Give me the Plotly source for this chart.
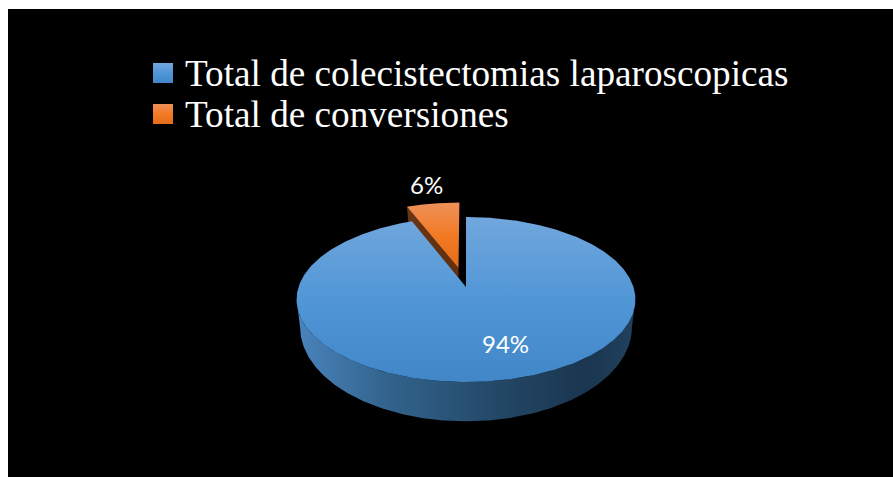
import numpy as np
import plotly.graph_objects as go

# Chart data
categories = ["Total de colecistectomias laparoscopicas", "Total de conversiones"]
percentages = [94, 6]
label_positions = [(505, 343.5), (426.5, 184)]

# Projection of the disc onto the page: a perspective with two rings (top and base)
CX = 466
TILT = 0.1515
TOP_RING = dict(cy=287.0, rx=167.5, ry=80.6)
BASE_RING = dict(cy=313.0, rx=164.0, ry=91.9)
EXPLODE = 0.249


def project(u, v, ring):
    w = 1 + TILT * v
    return CX + ring["rx"] * u / w, ring["cy"] - ring["ry"] * v / w


def arc(start, stop, offset=(0.0, 0.0), n=240):
    """Unit-disc points between two clockwise angles measured from 12 o'clock."""
    t = np.linspace(start, stop, n)
    return np.sin(t) + offset[0], np.cos(t) + offset[1]


def gradient(kind, stops):
    return dict(type=kind, colorscale=stops)


def polygon(xs, ys, fill):
    return go.Scatter(x=np.asarray(xs), y=np.asarray(ys), mode="lines", fill="toself",
                      fillgradient=fill, line=dict(width=0), hoverinfo="skip",
                      showlegend=False)


# Vertical stops run bottom to top of each shape
BLUE_TOP = [[0, "#4186c7"], [0.5, "#5196d6"], [1, "#71a7dd"]]
ORANGE_TOP = [[0, "#e56d1b"], [0.5, "#f27a24"], [1, "#ee9059"]]
BLUE_SIDE = [[0, "#4a84bd"], [0.25, "#33658f"], [0.6, "#234766"],
             [0.85, "#1a3650"], [1, "#21415f"]]
ORANGE_SIDE = [[0, "#5c2e10"], [1, "#6a3614"]]

total = sum(percentages)
blue_sweep = 2 * np.pi * percentages[0] / total
mid = blue_sweep + np.pi * percentages[1] / total
shift = (EXPLODE * np.sin(mid), EXPLODE * np.cos(mid))

fig = go.Figure()

# Exploded slice: its inner side wall first, then its top face
ou, ov = arc(blue_sweep, 2 * np.pi, shift)
apex = shift
edge = (ou[0], ov[0])
sx_top, sy_top = project(np.array([apex[0], edge[0]]), np.array([apex[1], edge[1]]), TOP_RING)
sx_base, sy_base = project(np.array([edge[0], apex[0]]), np.array([edge[1], apex[1]]), BASE_RING)
fig.add_trace(polygon(np.r_[sx_top, sx_base], np.r_[sy_top, sy_base],
                      gradient("vertical", ORANGE_SIDE)))
fx, fy = project(np.r_[apex[0], ou], np.r_[apex[1], ov], TOP_RING)
fig.add_trace(polygon(fx, fy, gradient("vertical", ORANGE_TOP)))

# Main slice: outer wall across the front half, then the top face
front = np.linspace(np.pi / 2 + np.arcsin(TILT), 3 * np.pi / 2 - np.arcsin(TILT), 300)
wx_top, wy_top = project(np.sin(front), np.cos(front), TOP_RING)
wx_base, wy_base = project(np.sin(front), np.cos(front), BASE_RING)
fig.add_trace(polygon(np.r_[wx_top, wx_base[::-1]], np.r_[wy_top, wy_base[::-1]],
                      gradient("horizontal", BLUE_SIDE)))
bu, bv = arc(0, blue_sweep, n=600)
bx, by = project(np.r_[0, bu], np.r_[0, bv], TOP_RING)
fig.add_trace(polygon(bx, by, gradient("vertical", BLUE_TOP)))

# Legend swatches with the same gradients as the slices
for (sy, stops) in zip((63, 104), (BLUE_TOP, ORANGE_TOP)):
    fig.add_trace(polygon([153, 173, 173, 153], [sy, sy, sy + 20, sy + 20],
                          gradient("vertical", stops)))

annotations = []
for name, y in zip(categories, (73, 114)):
    annotations.append(dict(x=183, y=y, text=name, xref="x", yref="y", showarrow=False,
                            xanchor="left", yanchor="middle",
                            font=dict(family="Liberation Serif", size=37.2, color="#ffffff")))
for value, (lx, ly) in zip(percentages, label_positions):
    annotations.append(dict(x=lx, y=ly, text=f"{value}%", xref="x", yref="y", showarrow=False,
                            xanchor="center", yanchor="middle",
                            font=dict(family="Lato", size=24, color="#ffffff")))

fig.update_layout(
    width=893, height=477, autosize=False,
    margin=dict(l=0, r=0, t=0, b=0),
    paper_bgcolor="#ffffff", plot_bgcolor="#000000",
    showlegend=False, annotations=annotations,
    xaxis=dict(range=[8, 893], domain=[8 / 893, 1], visible=False, fixedrange=True),
    yaxis=dict(range=[477, 9], domain=[0, 1 - 9 / 477], visible=False, fixedrange=True),
)
fig.write_html("out.html", config=dict(displayModeBar=False))
